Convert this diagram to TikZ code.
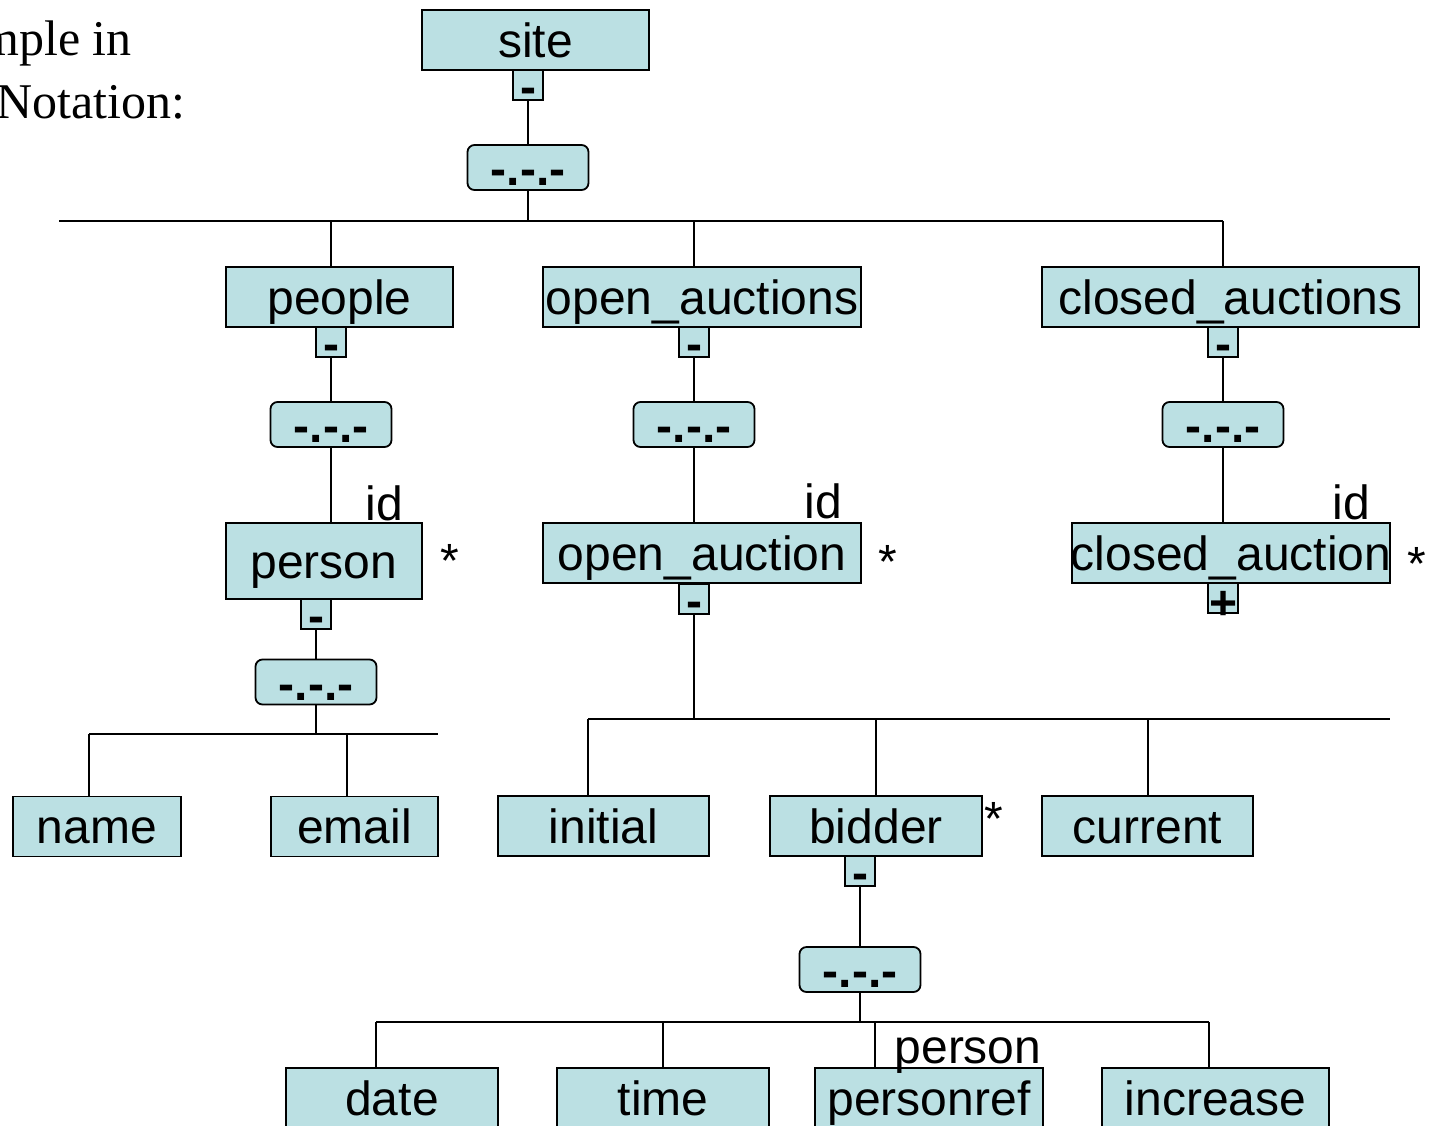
\documentclass[tikz,border=0pt]{standalone}
\usepackage{fontspec}
\setmainfont{Liberation Sans}
\newfontfamily\titlefont{Liberation Serif}
\definecolor{boxblue}{HTML}{BBE0E3}
\begin{document}
\begin{tikzpicture}[x=1pt,y=-1pt,
  base/.style={draw, fill=boxblue, line width=1.8pt, inner sep=0pt,
    text height=0pt, text depth=0pt, font=\fontsize{48}{58}\selectfont},
  lowered/.style={execute at begin node={\lower#1pt\hbox to 0pt\bgroup\hss},
    execute at end node={\hss\egroup}},
  elem/.style={base, lowered=17, minimum height=60pt},
  grp/.style={base, lowered=18, font=\fontsize{48}{58}\selectfont\bfseries,
    rounded corners=7pt, minimum width=121pt, minimum height=45pt},
  flag/.style={base, lowered=#1, font=\fontsize{48}{58}\selectfont\bfseries,
    minimum width=30pt, minimum height=30pt},
  flag/.default=18,
  tag/.style={inner sep=0pt, anchor=base, font=\fontsize{48}{58}\selectfont},
  caption/.style={inner sep=0pt, font=\titlefont\fontsize{50}{60}\selectfont},
  wire/.style={line width=2pt}]
\useasboundingbox (0,0) rectangle (1429,1125);

% heading
\node[caption, anchor=base east] (cap1) at (132,55) {mple in};
\node[caption, anchor=base west] (cap2) at (-4,118) {Notation:};

% root
\node[elem, minimum width=227pt] (site) at (535.5,40) {site};
\node[flag] (siteF) at (528,85) {-};
\node[grp] (siteG) at (528,167.5) {-.-.-};
\coordinate (busA) at (59,221);
\coordinate (busAend) at (1223,221);

% people branch
\node[elem, minimum width=227pt] (people) at (339.5,297) {people};
\node[flag] (peopleF) at (331,342) {-};
\node[grp] (peopleG) at (331,424.5) {-.-.-};
\node[elem, minimum width=196pt, minimum height=76pt] (person) at (324,561) {person};
\node[tag] (personId) at (384.5,520) {id};
\node[tag] (personStar) at (450,577) {*};
\node[flag] (personF) at (316,614) {-};
\node[grp] (personG) at (316,682) {-.-.-};
\coordinate (busB) at (89,734);
\coordinate (busBend) at (438,734);
\coordinate (emailTap) at (347,734);
\node[elem, minimum width=168pt] (name) at (97,826.5) {name};
\node[elem, minimum width=167pt] (email) at (354.5,826.5) {email};

% open auctions branch
\node[elem, minimum width=318pt] (openAuctions) at (702,297) {open\_auctions};
\node[flag] (oaF) at (694,342) {-};
\node[grp] (oaG) at (694,424.5) {-.-.-};
\node[elem, minimum width=318pt] (openAuction) at (702,553) {open\_auction};
\node[tag] (oaId) at (823.5,518) {id};
\node[tag] (oaStar) at (888,578) {*};
\node[flag] (oa2F) at (694,599) {-};
\coordinate (busC) at (588,719);
\coordinate (busCend) at (1390,719);
\node[elem, minimum width=211pt] (initial) at (603.5,826) {initial};
\node[elem, minimum width=212pt] (bidder) at (876,826) {bidder};
\node[tag] (bidderStar) at (994,835) {*};
\node[elem, minimum width=211pt] (current) at (1147.5,826) {current};
\node[flag] (bidderF) at (860,871) {-};
\node[grp] (bidderG) at (860,969.5) {-.-.-};
\coordinate (busD) at (376,1022);
\coordinate (busDend) at (1209,1022);
\coordinate (refTap) at (875,1022);
\node[elem, minimum width=212pt] (date) at (392,1098) {date};
\node[elem, minimum width=212pt] (time) at (663,1098) {time};
\node[elem, minimum width=228pt] (personref) at (929,1098) {personref};
\node[elem, minimum width=227pt] (increase) at (1215.5,1098) {increase};
\node[tag] (refTarget) at (968,1063) {person};

% closed auctions branch
\node[elem, minimum width=377pt] (closedAuctions) at (1230.5,297) {closed\_auctions};
\node[flag] (caF) at (1223,342) {-};
\node[grp] (caG) at (1223,424.5) {-.-.-};
\node[elem, minimum width=318pt] (closedAuction) at (1231,553) {closed\_auction};
\node[tag] (caId) at (1351.5,519) {id};
\node[tag] (caStar) at (1417,580) {*};
\node[flag=21] (ca2F) at (1223,598) {+};

% connectors
\draw[wire] (siteF.south) -- (siteF.south |- siteG.north);
\draw[wire] (siteG.south) -- (siteG.south |- busA);
\draw[wire] (busA) -- (busAend);
\draw[wire] (peopleF.center |- busA) -- (peopleF.center |- people.north);
\draw[wire] (oaF.center |- busA) -- (oaF.center |- openAuctions.north);
\draw[wire] (caF.center |- busA) -- (caF.center |- closedAuctions.north);

\draw[wire] (peopleF.south) -- (peopleF.south |- peopleG.north);
\draw[wire] (peopleG.south) -- (peopleG.south |- person.north);
\draw[wire] (personF.south) -- (personF.south |- personG.north);
\draw[wire] (personG.south) -- (personG.south |- busB);
\draw[wire] (busB) -- (busBend);
\draw[wire] (busB) -- (busB |- name.north);
\draw[wire] (emailTap) -- (emailTap |- email.north);

\draw[wire] (oaF.south) -- (oaF.south |- oaG.north);
\draw[wire] (oaG.south) -- (oaG.south |- openAuction.north);
\draw[wire] (oa2F.south) -- (oa2F.south |- busC);
\draw[wire] (busC) -- (busCend);
\draw[wire] (busC) -- (busC |- initial.north);
\draw[wire] (bidder.north |- busC) -- (bidder.north);
\draw[wire] (current.north |- busC) -- (current.north);

\draw[wire] (bidderF.south) -- (bidderF.south |- bidderG.north);
\draw[wire] (bidderG.south) -- (bidderG.south |- busD);
\draw[wire] (busD) -- (busDend);
\draw[wire] (busD) -- (busD |- date.north);
\draw[wire] (time.north |- busD) -- (time.north);
\draw[wire] (refTap) -- (refTap |- personref.north);
\draw[wire] (busDend) -- (busDend |- increase.north);

\draw[wire] (caF.south) -- (caF.south |- caG.north);
\draw[wire] (caG.south) -- (caG.south |- closedAuction.north);
\end{tikzpicture}
\end{document}
